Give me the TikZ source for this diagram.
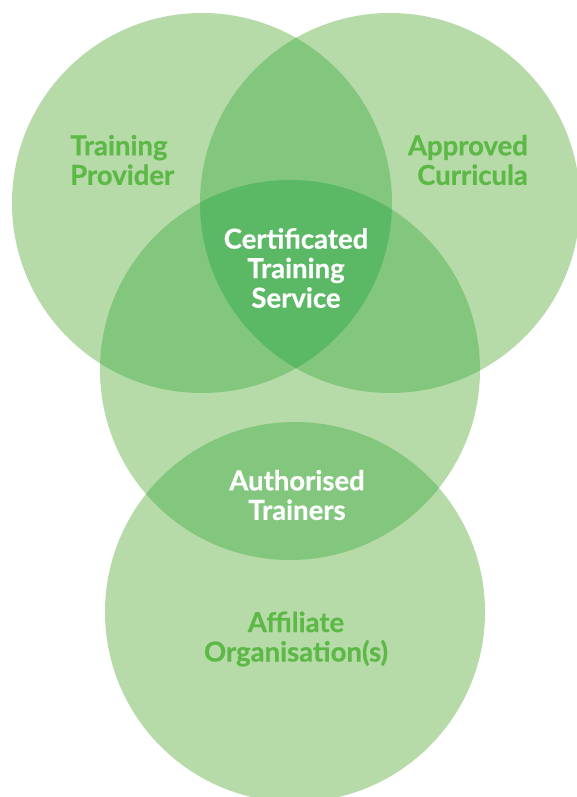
\documentclass[tikz,border=0pt]{standalone}
\usepackage{fontspec}
\setmainfont{Lato}[BoldFeatures={FakeBold=0.6}]
\definecolor{verdeclaro}{HTML}{B6DAA8}
\definecolor{verdemedio}{HTML}{82C77D}
\definecolor{verdeescuro}{HTML}{5BB864}
\definecolor{verdetexto}{HTML}{5CB946}

\begin{document}
\begin{tikzpicture}[x=1pt,y=-1pt,
  rotulo/.style={font=\bfseries\fontsize{27.5}{29.5}\selectfont, align=center, text=verdetexto, inner sep=0pt},
  branco/.style={rotulo, text=white}]
\useasboundingbox (0,0) rectangle (577,797);

% centros
\coordinate (provider) at (202,203);
\coordinate (curricula) at (390,203);
\coordinate (trainers) at (290,370);
\coordinate (affiliate) at (295,612);

% círculos
\foreach \c in {provider, curricula, trainers, affiliate} {
  \fill[verdeclaro] (\c) circle (190pt);
}

% interseções duplas
\begin{scope}
  \clip (provider) circle (190pt);
  \fill[verdemedio] (curricula) circle (190pt);
  \fill[verdemedio] (trainers) circle (190pt);
\end{scope}
\begin{scope}
  \clip (curricula) circle (190pt);
  \fill[verdemedio] (trainers) circle (190pt);
\end{scope}
\begin{scope}
  \clip (trainers) circle (190pt);
  \fill[verdemedio] (affiliate) circle (190pt);
\end{scope}

% interseção tripla
\begin{scope}
  \clip (provider) circle (190pt);
  \clip (curricula) circle (190pt);
  \fill[verdeescuro] (trainers) circle (190pt);
\end{scope}

% rótulos
\node[rotulo, align=left, anchor=west] (tp) at (70,160) {Training\\Provider};
\node[rotulo, align=right, anchor=east] (ac) at (528,160) {Approved\\Curricula};
\node[branco] (cts) at (296,268) {Certificated\\Training\\Service};
\node[branco] (at) at (297,495) {Authorised\\Trainers};
\node[rotulo] (ao) at (296,639) {Affiliate\\Organisation(s)};

\end{tikzpicture}
\end{document}
